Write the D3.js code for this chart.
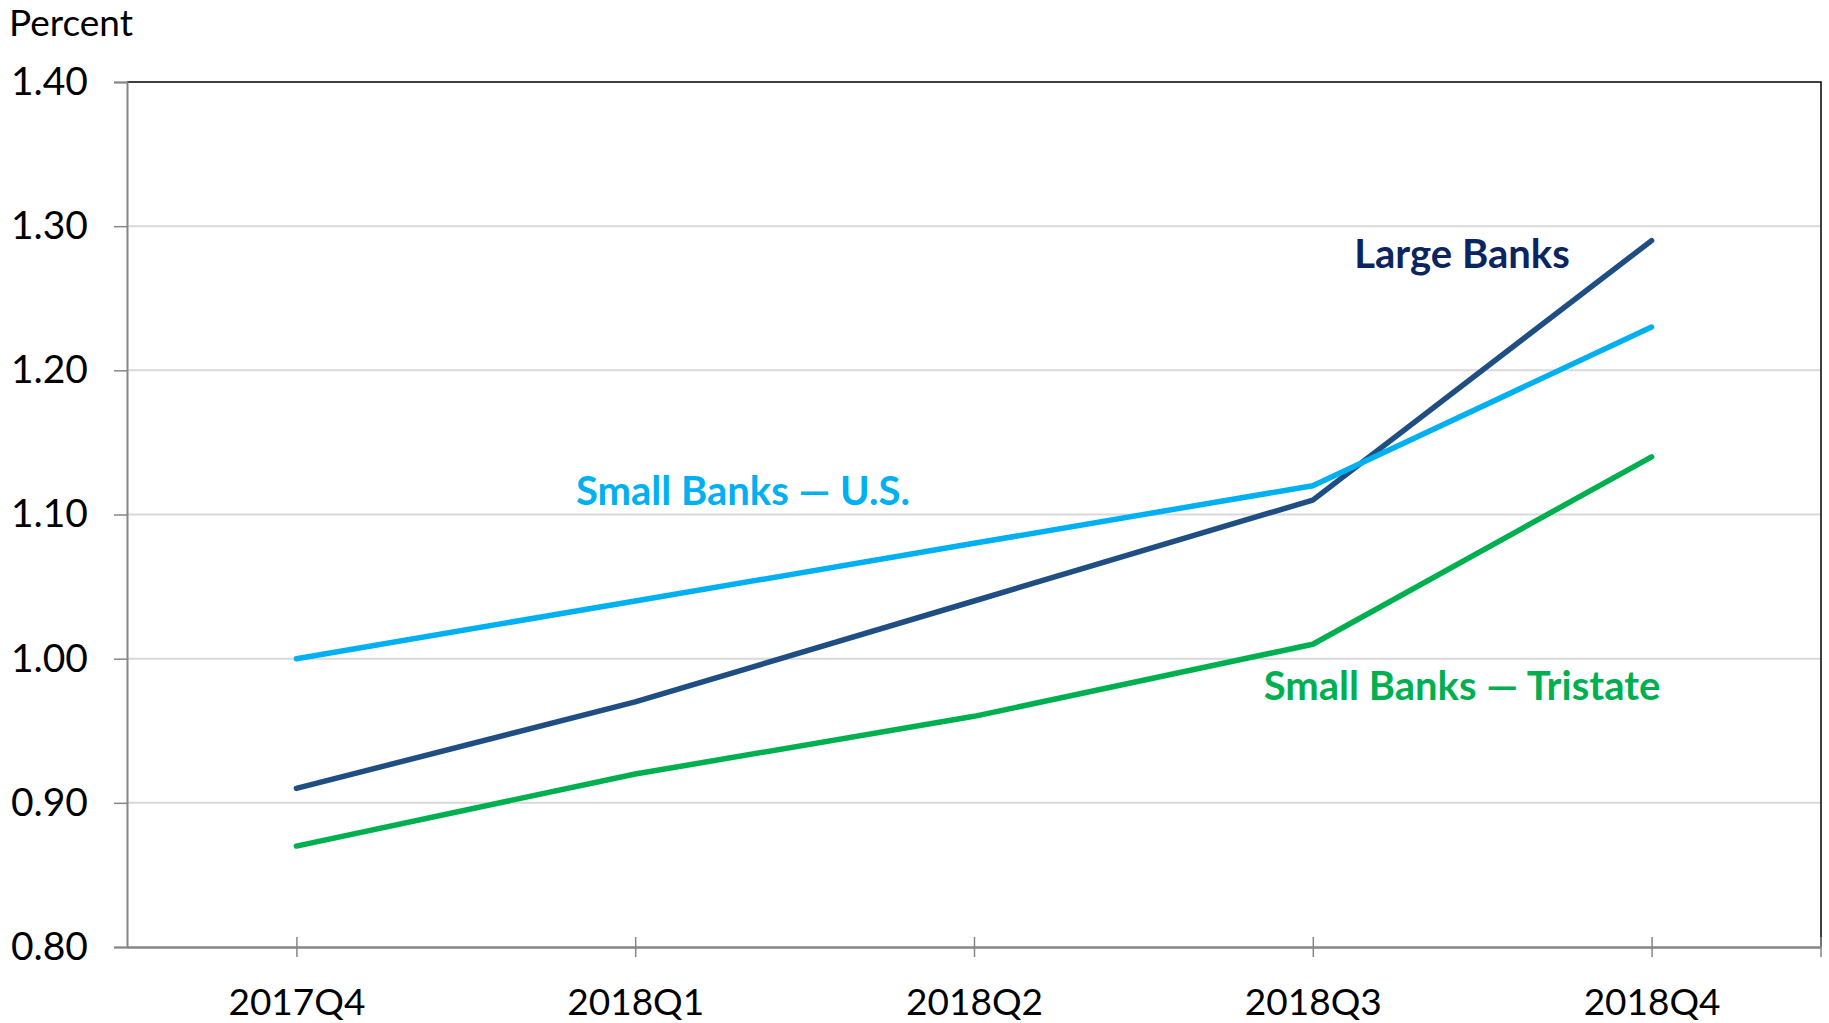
<!DOCTYPE html>
<html>
<head>
<meta charset="utf-8">
<script src="https://cdn.jsdelivr.net/npm/d3@7"></script>
<style>
    body { margin: 0; background: #fff; }
    text { font-family: Lato, "Open Sans", sans-serif; }
</style>
</head>
<body>
<div id="chart"></div>
<script>

// chart data
let quarters = ['2017Q4', '2018Q1', '2018Q2', '2018Q3', '2018Q4'];
let largeBanks = [0.91, 0.97, 1.04, 1.11, 1.29];
let smallBanksUS = [1.00, 1.04, 1.08, 1.12, 1.23];
let smallBanksTristate = [0.87, 0.92, 0.96, 1.01, 1.14];
let yTicks = [0.80, 0.90, 1.00, 1.10, 1.20, 1.30, 1.40];

let series = [
    {name: 'Large Banks', values: largeBanks, color: '#1f4e83', labelColor: '#0b2560', lx: 1462, ly: 268},
    {name: 'Small Banks \u2014 U.S.', values: smallBanksUS, color: '#00b0f0', labelColor: '#00b0f0', lx: 743, ly: 505},
    {name: 'Small Banks \u2014 Tristate', values: smallBanksTristate, color: '#00b050', labelColor: '#00b050', lx: 1462, ly: 700}
];

let width = 1829, height = 1023;
let margin = {top: 82, right: 8, bottom: 76, left: 127};

let svg = d3.select('#chart').append('svg')
    .attr('width', width)
    .attr('height', height);

let x = d3.scalePoint()
    .domain(quarters)
    .range([margin.left, width - margin.right])
    .padding(0.5);

let y = d3.scaleLinear()
    .domain([0.8, 1.4])
    .range([height - margin.bottom, margin.top]);

// gridlines
svg.append('g')
    .selectAll('line')
    .data(yTicks.slice(1, -1))
    .enter().append('line')
    .attr('x1', margin.left)
    .attr('x2', width - margin.right)
    .attr('y1', d => y(d))
    .attr('y2', d => y(d))
    .attr('stroke', '#d9d9d9')
    .attr('stroke-width', 2);

// top and right border
svg.append('path')
    .attr('d', `M${margin.left},${y(1.4)}H${width - margin.right}V${y(0.8)}`)
    .attr('fill', 'none')
    .attr('stroke', '#000')
    .attr('stroke-width', 1.5);

// y axis
let yAxis = d3.axisLeft(y)
    .tickValues(yTicks)
    .tickFormat(d3.format('.2f'))
    .tickSize(13)
    .tickPadding(26);

svg.append('g')
    .attr('class', 'y-axis')
    .attr('transform', `translate(${margin.left},0)`)
    .call(yAxis)
    .call(g => g.select('.domain').attr('stroke', '#868686').attr('stroke-width', 2))
    .call(g => g.selectAll('.tick line').attr('stroke', '#868686').attr('stroke-width', 1.5))
    .call(g => g.selectAll('.tick text').attr('fill', '#000').style('font-size', '39px'));

// x axis
let xAxis = d3.axisBottom(x)
    .tickSize(10)
    .tickSizeOuter(0)
    .tickPadding(32);

svg.append('g')
    .attr('class', 'x-axis')
    .attr('transform', `translate(0,${y(0.8)})`)
    .call(xAxis)
    .call(g => g.select('.domain').attr('stroke', '#868686').attr('stroke-width', 2.5))
    .call(g => g.selectAll('.tick line').attr('y1', -10).attr('stroke', '#868686').attr('stroke-width', 1.5))
    .call(g => g.selectAll('.tick text').attr('fill', '#000').style('font-size', '37px'));

// right-hand tick at the end of the x axis
svg.append('line')
    .attr('x1', width - margin.right)
    .attr('x2', width - margin.right)
    .attr('y1', y(0.8) - 10)
    .attr('y2', y(0.8) + 10)
    .attr('stroke', '#868686')
    .attr('stroke-width', 1.5);

// y-axis title
svg.append('text')
    .attr('x', 9)
    .attr('y', 36)
    .style('font-size', '37px')
    .attr('fill', '#000')
    .text('Percent');

// lines
let line = d3.line()
    .x((d, i) => x(quarters[i]))
    .y(d => y(d));

svg.append('g')
    .selectAll('path')
    .data(series)
    .enter().append('path')
    .attr('d', d => line(d.values))
    .attr('fill', 'none')
    .attr('stroke', d => d.color)
    .attr('stroke-width', 5.5)
    .attr('stroke-linecap', 'round')
    .attr('stroke-linejoin', 'round');

// labels
svg.append('g')
    .selectAll('text')
    .data(series)
    .enter().append('text')
    .attr('x', d => d.lx)
    .attr('y', d => d.ly)
    .attr('text-anchor', 'middle')
    .attr('fill', d => d.labelColor)
    .style('font-size', '40px')
    .style('font-weight', 'bold')
    .text(d => d.name);

</script>
</body>
</html>
